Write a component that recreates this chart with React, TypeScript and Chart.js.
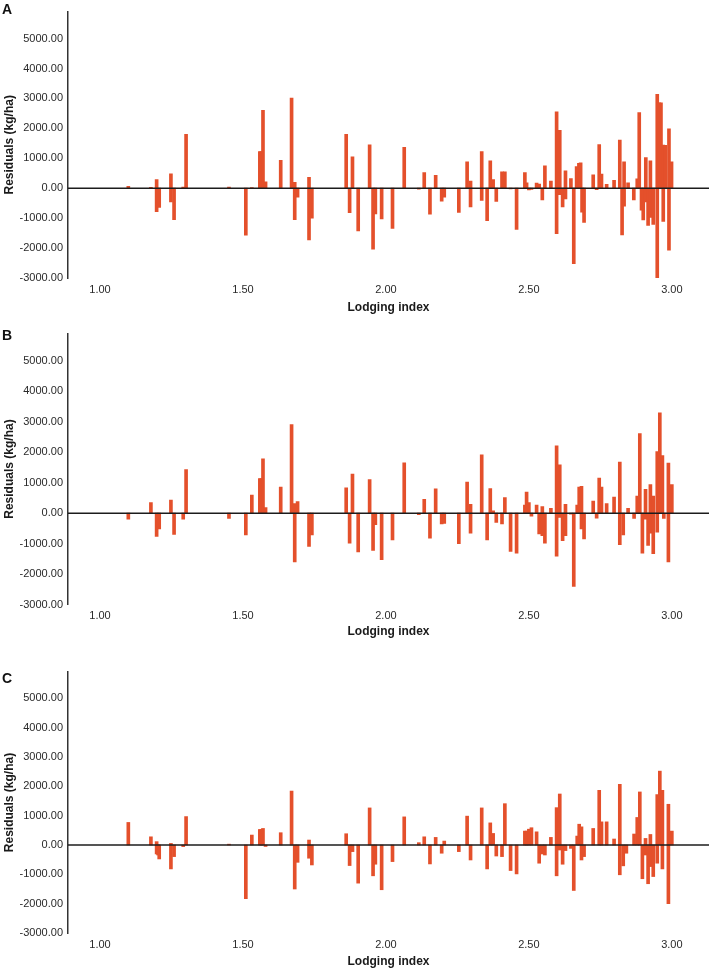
import React, { useEffect, useRef } from 'react';
import { Chart, registerables } from 'chart.js';

Chart.register(...registerables);

const FONT = "'Liberation Sans', Arial, sans-serif";
const BAR_COLOR = '#E4502B';

const xTickValues = [1, 1.5, 2, 2.5, 3];
const yTickValues = [-3000, -2000, -1000, 0, 1000, 2000, 3000, 4000, 5000];
const xAxisTitle = 'Lodging index';
const yAxisTitle = 'Residuals (kg/ha)';

// Panel A
const lodgingA = [
  1.099, 1.178, 1.198, 1.198, 1.207, 1.248, 1.248, 1.259, 1.291, 1.301,
  1.451, 1.510, 1.531, 1.559, 1.564, 1.570, 1.579, 1.632, 1.670, 1.681,
  1.681, 1.691, 1.731, 1.731, 1.741, 1.861, 1.873, 1.883, 1.903, 1.943,
  1.955, 1.963, 1.985, 2.023, 2.064, 2.115, 2.134, 2.154, 2.174, 2.195,
  2.204, 2.255, 2.284, 2.296, 2.296, 2.335, 2.335, 2.354, 2.365, 2.375,
  2.386, 2.406, 2.416, 2.436, 2.457, 2.486, 2.492, 2.500, 2.509, 2.527,
  2.536, 2.547, 2.556, 2.577, 2.597, 2.597, 2.608, 2.608, 2.618, 2.628,
  2.628, 2.647, 2.657, 2.667, 2.675, 2.681, 2.686, 2.693, 2.725, 2.737,
  2.746, 2.754, 2.772, 2.798, 2.818, 2.826, 2.833, 2.833, 2.847, 2.867,
  2.879, 2.886, 2.894, 2.900, 2.909, 2.909, 2.917, 2.925, 2.925, 2.935,
  2.949, 2.949, 2.956, 2.962, 2.970, 2.970, 2.977, 2.990, 2.990, 2.999,
];
const residualsA = [
  60, 30, 290, -780, -645, 480, -460, -1055, 40, 1800,
  40, -1570, 20, 1225, 1225, 2600, 215, 935, 3010, 200,
  -1050, -300, 365, -1730, -1000, 1800, -815, 1045, -1430, 1450,
  -2040, -860, -1030, -1345, 1365, -30, 525, -870, 430, -430,
  -300, -810, 880, 235, -625, 1225, -410, -1085, 915, 290,
  -440, 550, 550, -20, -1375, 525, 180, -60, -40, 170,
  140, -390, 750, 235, 2550, -1515, 1935, -215, -625, 580,
  -355, 320, -2525, 720, 830, 850, -800, -1140, 450, -50,
  1460, 475, 130, 260, 1610, -1560, 880, -600, 180, -390,
  310, 2530, -730, -1060, 1020, -460, -1240, 915, -980, -1210,
  3140, -2990, 2850, 2850, 1440, -1110, 1430, 1980, -2070, 880,
];

// Panel B
const lodgingB = [
  1.099, 1.178, 1.198, 1.207, 1.248, 1.259, 1.291, 1.301, 1.451, 1.510,
  1.531, 1.559, 1.564, 1.570, 1.579, 1.632, 1.670, 1.681, 1.681, 1.691,
  1.731, 1.741, 1.861, 1.873, 1.883, 1.903, 1.943, 1.955, 1.963, 1.985,
  2.023, 2.064, 2.115, 2.134, 2.154, 2.174, 2.195, 2.204, 2.255, 2.284,
  2.296, 2.296, 2.335, 2.354, 2.365, 2.375, 2.386, 2.406, 2.416, 2.436,
  2.457, 2.486, 2.492, 2.500, 2.509, 2.527, 2.536, 2.547, 2.547, 2.556,
  2.577, 2.597, 2.597, 2.608, 2.608, 2.618, 2.628, 2.628, 2.647, 2.657,
  2.669, 2.676, 2.684, 2.684, 2.693, 2.725, 2.737, 2.746, 2.754, 2.772,
  2.798, 2.818, 2.818, 2.830, 2.847, 2.868, 2.879, 2.888, 2.897, 2.908,
  2.908, 2.917, 2.925, 2.925, 2.935, 2.935, 2.949, 2.949, 2.958, 2.967,
  2.972, 2.988, 2.988, 3.000,
];
const residualsB = [
  -195, 345, -765, -520, 430, -700, -195, 1430, -170, -715,
  595, 1135, 1135, 1785, 185, 855, 2910, 315, -1600, 380,
  -1090, -715, 830, -985, 1285, -1275, 1105, -1220, -380, -1525,
  -875, 1655, -50, 455, -820, 800, -355, -335, -1005, 1025,
  290, -660, 1915, -875, 810, 75, -305, -355, 510, -1255,
  -1310, 270, 690, 345, -100, 270, -680, 215, -735, -985,
  160, 2215, -1415, 1590, -140, -900, 290, -735, -30, -2410,
  270, 855, 885, -520, -845, 400, -160, 1155, 855, 315,
  530, 1675, -1035, -715, 160, -170, 560, 2615, -1310, 780,
  -195, -1060, 940, -660, 560, -1330, 2020, -625, 3295, 1890,
  -170, 1645, -1600, 940,
];

// Panel C
const lodgingC = [
  1.099, 1.178, 1.198, 1.198, 1.203, 1.207, 1.248, 1.248, 1.259, 1.291,
  1.301, 1.451, 1.510, 1.531, 1.559, 1.564, 1.570, 1.579, 1.632, 1.670,
  1.681, 1.691, 1.731, 1.731, 1.741, 1.861, 1.873, 1.883, 1.903, 1.943,
  1.955, 1.963, 1.985, 2.023, 2.064, 2.115, 2.134, 2.154, 2.174, 2.195,
  2.204, 2.255, 2.284, 2.296, 2.335, 2.354, 2.365, 2.375, 2.386, 2.406,
  2.416, 2.436, 2.457, 2.486, 2.492, 2.500, 2.509, 2.527, 2.536, 2.547,
  2.556, 2.577, 2.597, 2.597, 2.608, 2.608, 2.618, 2.628, 2.647, 2.657,
  2.669, 2.676, 2.684, 2.684, 2.693, 2.725, 2.746, 2.754, 2.772, 2.798,
  2.818, 2.818, 2.830, 2.841, 2.868, 2.879, 2.888, 2.897, 2.908, 2.908,
  2.917, 2.925, 2.925, 2.935, 2.949, 2.949, 2.958, 2.967, 2.967, 2.988,
  2.988, 3.000,
];
const residualsC = [
  770, 280, 115, -305, -340, -475, 55, -815, -395, -55,
  970, 30, -1830, 340, 530, 530, 565, -50, 420, 1840,
  -1500, -590, 170, -450, -680, 385, -700, -225, -1300, 1265,
  -1050, -655, -1525, -565, 960, 80, 280, -645, 260, -280,
  135, -225, 985, -510, 1265, -815, 755, 395, -375, -395,
  1410, -870, -985, 475, 475, 540, 590, 450, -620, -305,
  -340, 260, 1275, -1050, 1740, -170, -655, -190, -115, -1550,
  305, 710, 620, -510, -395, 565, 1865, 790, 790, 205,
  2070, -1015, -710, -280, 375, 940, 1810, -1150, 225, -340,
  -1320, 360, -735, -1075, 1720, -620, 2520, 1865, -815, 1390,
  -2000, 475,
];

const zeroLinePlugin = {
  id: 'zeroLine',
  afterDatasetsDraw(chart: any) {
    const { ctx, chartArea, scales } = chart;
    const y = scales.y.getPixelForValue(0);
    ctx.save();
    ctx.strokeStyle = '#1c1c1c';
    ctx.lineWidth = 1.5;
    ctx.beginPath();
    ctx.moveTo(chartArea.left, y);
    ctx.lineTo(chartArea.right, y);
    ctx.stroke();
    ctx.restore();
  },
};

type PanelProps = {
  letter: string;
  top: number;
  height: number;
  chartTop: number;
  xAxisHeight: number;
  titleBottomPad: number;
  letterTop: number;
  xs: number[];
  ys: number[];
};

function Panel(props: PanelProps) {
  const ref = useRef<HTMLCanvasElement | null>(null);
  useEffect(() => {
    if (!ref.current) return;
    const n = Math.min(props.xs.length, props.ys.length);
    const points = [];
    for (let i = 0; i < n; i++) points.push({ x: props.xs[i], y: props.ys[i] });
    const tickFont = { family: FONT, size: 11, weight: 'normal' as const };
    const chart = new Chart(ref.current, {
      type: 'bar',
      data: {
        datasets: [
          {
            data: points as any,
            backgroundColor: BAR_COLOR,
            borderWidth: 0,
            barThickness: 3,
          },
        ],
      },
      options: {
        animation: false,
        responsive: false,
        maintainAspectRatio: false,
        layout: { padding: { top: props.chartTop, left: 0, right: 0, bottom: 0 } },
        plugins: { legend: { display: false }, tooltip: { enabled: false } },
        scales: {
          x: {
            type: 'linear',
            min: 0.888,
            max: 3.13,
            offset: false,
            grid: { display: false, drawTicks: false },
            border: { display: false },
            afterBuildTicks: (s: any) => {
              s.ticks = xTickValues.map((v) => ({ value: v }));
            },
            afterFit: (s: any) => {
              s.height = props.xAxisHeight;
            },
            ticks: {
              autoSkip: false,
              maxRotation: 0,
              padding: 5,
              color: '#2a2a2a',
              font: tickFont,
              callback: (v: any) => Number(v).toFixed(2),
            },
            title: {
              display: true,
              text: xAxisTitle,
              color: '#1a1a1a',
              font: { family: FONT, size: 12, weight: 'bold' },
              padding: { top: 0, bottom: props.titleBottomPad },
            },
          },
          y: {
            type: 'linear',
            min: -3000,
            max: 5900,
            grid: { display: false, drawTicks: false },
            border: { display: true, color: '#333333', width: 1.5 },
            afterBuildTicks: (s: any) => {
              s.ticks = yTickValues.map((v) => ({ value: v }));
            },
            afterFit: (s: any) => {
              s.width = 68;
            },
            ticks: {
              autoSkip: false,
              padding: 5,
              color: '#2a2a2a',
              font: tickFont,
              callback: (v: any) => Number(v).toFixed(2),
            },
            title: {
              display: true,
              text: yAxisTitle,
              color: '#1a1a1a',
              font: { family: FONT, size: 12, weight: 'bold' },
              padding: { top: 2, bottom: 2 },
            },
          },
        },
      },
      plugins: [zeroLinePlugin],
    });
    return () => chart.destroy();
  }, []);

  return (
    <div style={{ position: 'absolute', left: 0, top: props.top, width: 709, height: props.height }}>
      <canvas ref={ref} width={709} height={props.height} style={{ display: 'block' }} />
      <div
        style={{
          position: 'absolute',
          left: 2,
          top: props.letterTop,
          fontFamily: FONT,
          fontWeight: 'bold',
          fontSize: 14,
          color: '#111',
          lineHeight: '14px',
        }}
      >
        {props.letter}
      </div>
    </div>
  );
}

export default function App() {
  return (
    <div style={{ position: 'absolute', left: 0, top: 0, width: 709, height: 973, background: '#fff' }}>
      <Panel letter="A" top={0} height={320} chartTop={2} xAxisHeight={42} titleBottomPad={5} letterTop={2} xs={lodgingA} ys={residualsA} />
      <Panel letter="B" top={322} height={321} chartTop={8} xAxisHeight={38.5} titleBottomPad={4} letterTop={6} xs={lodgingB} ys={residualsB} />
      <Panel letter="C" top={643} height={330} chartTop={29} xAxisHeight={40} titleBottomPad={4} letterTop={28} xs={lodgingC} ys={residualsC} />
    </div>
  );
}
